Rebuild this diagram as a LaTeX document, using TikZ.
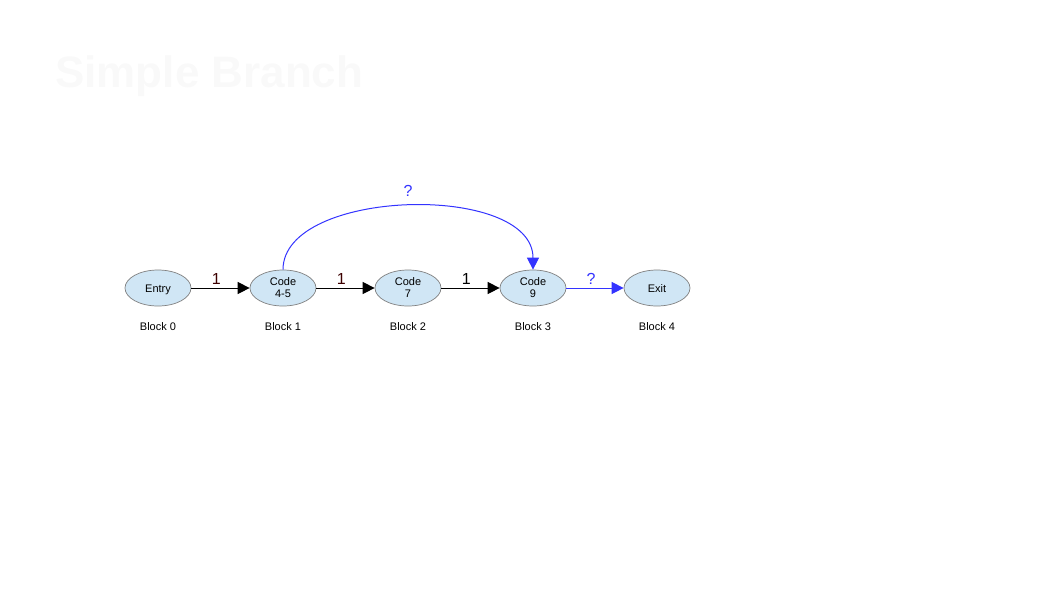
\documentclass[tikz,border=0pt]{standalone}
\usepackage{fontspec}
\setmainfont{Liberation Sans}
\usetikzlibrary{shapes.geometric,arrows.meta}
\begin{document}
\begin{tikzpicture}[x=1pt,y=-1pt,
  blk/.style={ellipse,draw=black!50,fill={rgb,255:red,208;green,230;blue,245},line width=0.7pt,minimum width=66pt,minimum height=36pt,inner sep=0pt,align=center,font=\fontsize{11}{12}\selectfont},
  oneline/.style={text height=8pt,text depth=0pt},
  blkcap/.style={font=\fontsize{11}{12}\selectfont},
  elab/.style={font=\fontsize{16}{18}\selectfont},
  blackedge/.style={draw=black,line width=1pt,-{Triangle[length=12pt,width=12pt]}},
  blueedge/.style={draw={rgb,255:red,51;green,51;blue,255},line width=1pt,-{Triangle[length=12pt,width=12pt]}},
  bluetxt/.style={text={rgb,255:red,51;green,51;blue,255}}]
\useasboundingbox (0,0) rectangle (1058,595);
\node[anchor=base west,inner sep=0pt,text={rgb,255:red,249;green,249;blue,249},font=\fontsize{44}{48}\selectfont\bfseries] (title) at (55,87) {Simple Branch};
\node[blk,oneline] (b0) at (158,288) {Entry};
\node[blk] (b1) at (283,288) {Code\\4-5};
\node[blk] (b2) at (408,288) {Code\\7};
\node[blk] (b3) at (533,288) {Code\\9};
\node[blk,oneline] (b4) at (657,288) {Exit};
\node[blkcap] (c0) at (158,326.5) {Block 0};
\node[blkcap] (c1) at (283,326.5) {Block 1};
\node[blkcap] (c2) at (408,326.5) {Block 2};
\node[blkcap] (c3) at (533,326.5) {Block 3};
\node[blkcap] (c4) at (657,326.5) {Block 4};
\draw[blackedge] (b0.east) -- node[pos=0.43,elab,above=-0.5pt,text={rgb,255:red,60;green,0;blue,0}] {1} (b1.west);
\draw[blackedge] (b1.east) -- node[pos=0.43,elab,above=-0.5pt,text={rgb,255:red,60;green,0;blue,0}] {1} (b2.west);
\draw[blackedge] (b2.east) -- node[pos=0.43,elab,above=-0.5pt] {1} (b3.west);
\draw[blueedge] (b3.east) -- node[pos=0.43,elab,above=-0.5pt,bluetxt] {?} (b4.west);
\draw[blueedge] (b1.north) .. controls (283,188) and (533,182) .. (b3.north);
\node[elab,bluetxt] (q) at (408,191) {?};
\end{tikzpicture}
\end{document}
